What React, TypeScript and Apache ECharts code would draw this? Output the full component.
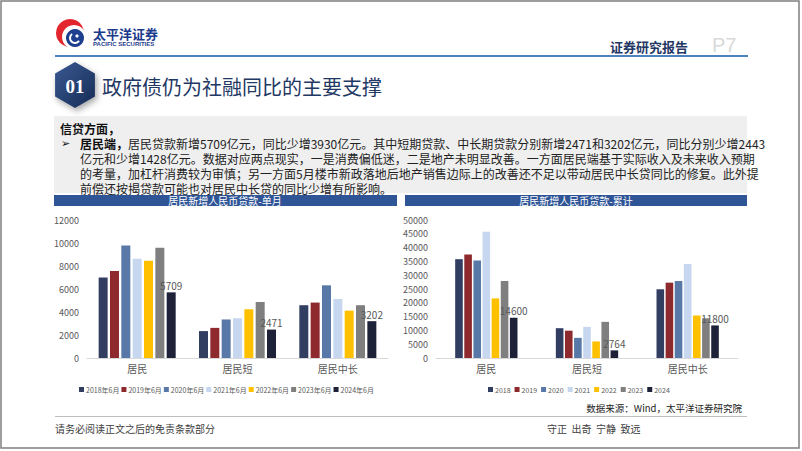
import React, { useEffect, useRef } from "react";
import * as echarts from "echarts";

const categories = ["居民", "居民短", "居民中长"];

const monthlyNames = ["2018年6月", "2019年6月", "2020年6月", "2021年6月", "2022年6月", "2023年6月", "2024年6月"];
const m2018 = [7000, 2340, 4590];
const m2019 = [7560, 2620, 4820];
const m2020 = [9780, 3350, 6320];
const m2021 = [8620, 3460, 5130];
const m2022 = [8450, 4240, 4120];
const m2023 = [9580, 4870, 4590];
const m2024 = [5709, 2471, 3202];
const monthlyValues = [m2018, m2019, m2020, m2021, m2022, m2023, m2024];

const cumNames = ["2018", "2019", "2020", "2021", "2022", "2023", "2024"];
const c2018 = [35800, 10800, 24900];
const c2019 = [37500, 9900, 27300];
const c2020 = [35300, 7300, 27900];
const c2021 = [45700, 11300, 34100];
const c2022 = [21600, 6000, 15400];
const c2023 = [27900, 13100, 14400];
const c2024 = [14600, 2764, 11800];
const cumValues = [c2018, c2019, c2020, c2021, c2022, c2023, c2024];

const leftTicks = { min: 0, max: 12000, interval: 2000 };
const rightTicks = { min: 0, max: 50000, interval: 5000 };

const colors = ["#323e61", "#8e2a2d", "#5878a8", "#c6d7ef", "#ffc000", "#7f7f7f", "#1d2238"];

const FONT = '"Noto Sans CJK SC", "Noto Sans", sans-serif';

const bodyLines = [
  "亿元和少增1428亿元。数据对应两点现实，一是消费偏低迷，二是地产未明显改善。一方面居民端基于实际收入及未来收入预期",
  "的考量，加杠杆消费较为审慎；另一方面5月楼市新政落地后地产销售边际上的改善还不足以带动居民中长贷同比的修复。此外提",
  "前偿还按揭贷款可能也对居民中长贷的同比少增有所影响。",
];

function hexPoints(cx: number, cy: number, r: number) {
  const pts: number[][] = [];
  for (let i = 0; i < 6; i++) {
    const a = (Math.PI / 180) * (60 * i - 90);
    pts.push([cx + r * Math.cos(a), cy + r * Math.sin(a)]);
  }
  return pts;
}

export default function App() {
  const ref = useRef<HTMLDivElement>(null);
  useEffect(() => {
    if (!ref.current) return;
    const chart = echarts.init(ref.current, undefined, { renderer: "svg" });

    const labelStyle = { show: true, position: "top", distance: 2, fontSize: 10, color: "#595959", fontFamily: FONT };

    const series: any[] = [];
    monthlyNames.forEach((n, i) => {
      series.push({
        name: n,
        type: "bar",
        xAxisIndex: 0,
        yAxisIndex: 0,
        data: monthlyValues[i],
        barWidth: 9,
        barGap: "26%",
        itemStyle: { color: colors[i] },
        label: i === 6 ? labelStyle : { show: false },
      });
    });
    cumNames.forEach((n, i) => {
      series.push({
        name: n,
        type: "bar",
        xAxisIndex: 1,
        yAxisIndex: 1,
        data: cumValues[i],
        barWidth: 7.6,
        barGap: "20%",
        itemStyle: { color: colors[i] },
        label: i === 6 ? labelStyle : { show: false },
      });
    });

    const xAxisBase = {
      type: "category",
      data: categories,
      axisLine: { lineStyle: { color: "#d9d9d9", width: 1 } },
      axisTick: { show: false },
      axisLabel: { fontSize: 10, color: "#595959", fontFamily: FONT, margin: 5 },
    };
    const yAxisBase = {
      type: "value",
      axisLine: { show: false },
      axisTick: { show: false },
      splitLine: { show: false },
      axisLabel: { fontSize: 9, color: "#595959", fontFamily: FONT, formatter: (v: number) => String(v) },
    };

    const txt = (o: any) => ({ lineHeight: Math.round((o.fontSize || 12) * 1.1), ...o });

    const graphics: any[] = [
      // page border
      { type: "rect", shape: { x: 1, y: 1, width: 798, height: 447 }, style: { fill: "none", stroke: "#7f7f7f", lineWidth: 1.5 }, z: 100 },
      // logo
      { type: "circle", shape: { cx: 70, cy: 33, r: 14 }, style: { fill: "#e3262e" } },
      { type: "circle", shape: { cx: 74, cy: 37, r: 12 }, style: { fill: "#ffffff" } },
      { type: "circle", shape: { cx: 75, cy: 38, r: 9 }, style: { fill: "#1e3f8f" } },
      { type: "arc", shape: { cx: 75, cy: 38, r: 5, startAngle: Math.PI * 0.2, endAngle: Math.PI * 1.3 }, style: { stroke: "#ffffff", lineWidth: 2, fill: "none" } },
      { type: "circle", shape: { cx: 77, cy: 36, r: 1.6 }, style: { fill: "#ffffff" } },
      { type: "text", style: txt({ text: "太平洋证券", x: 93, y: 33, fontSize: 13, fontWeight: "bold", fill: "#1b3a8c", fontFamily: FONT, textVerticalAlign: "middle" }) },
      { type: "text", style: txt({ text: "PACIFIC SECURITIES", x: 93, y: 44, fontSize: 6, fontWeight: "bold", fill: "#1b3a8c", fontFamily: '"Liberation Sans", sans-serif', textVerticalAlign: "middle" }) },
      // header line
      { type: "line", shape: { x1: 55, y1: 56, x2: 748, y2: 56 }, style: { stroke: "#4f81bd", lineWidth: 2 } },
      { type: "text", style: txt({ text: "证券研究报告", x: 610, y: 46, fontSize: 13, fontWeight: "bold", fill: "#1f3864", fontFamily: FONT, textVerticalAlign: "middle" }) },
      { type: "text", style: txt({ text: "P7", x: 712, y: 45, fontSize: 20, fill: "#d9d9d9", fontFamily: '"Liberation Sans", sans-serif', textVerticalAlign: "middle" }) },
      // section title
      {
        type: "polygon",
        shape: { points: hexPoints(75, 85, 23) },
        style: {
          fill: new echarts.graphic.LinearGradient(0, 0, 1, 1, [
            { offset: 0, color: "#3a5a92" },
            { offset: 1, color: "#162b55" },
          ]),
          shadowBlur: 6,
          shadowColor: "rgba(0,0,0,0.35)",
          shadowOffsetX: 2,
          shadowOffsetY: 3,
        },
      },
      { type: "text", style: txt({ text: "01", x: 75, y: 86, fontSize: 19, fontWeight: "bold", fill: "#ffffff", fontFamily: '"Liberation Serif", serif', textAlign: "center", textVerticalAlign: "middle" }) },
      { type: "text", style: txt({ text: "政府债仍为社融同比的主要支撑", x: 102, y: 86, fontSize: 20, fill: "#1f3864", fontFamily: FONT, textVerticalAlign: "middle" }) },
      // gray box
      { type: "rect", shape: { x: 54, y: 116, width: 693, height: 77 }, style: { fill: "#efefef" } },
      { type: "text", style: txt({ text: "信贷方面，", x: 60, y: 128, fontSize: 12, fontWeight: "bold", fill: "#111111", fontFamily: FONT, textVerticalAlign: "middle" }) },
      { type: "text", style: txt({ text: "➢", x: 61, y: 143, fontSize: 11, fill: "#111111", fontFamily: '"DejaVu Sans", sans-serif', textVerticalAlign: "middle" }) },
      {
        type: "text",
        style: {
          text: "{b|居民端，}居民贷款新增5709亿元，同比少增3930亿元。其中短期贷款、中长期贷款分别新增2471和3202亿元，同比分别少增2443",
          x: 80, y: 143, fontSize: 12, lineHeight: 13, fill: "#222222", fontFamily: FONT, textVerticalAlign: "middle",
          rich: { b: { fontSize: 12, lineHeight: 13, fontWeight: "bold", fill: "#111111", fontFamily: FONT } },
        },
      },
      ...bodyLines.map((t, i) => ({
        type: "text",
        style: { text: t, x: 80, y: 158 + 15 * i, fontSize: 12, lineHeight: 13, fill: "#222222", fontFamily: FONT, textVerticalAlign: "middle" },
      })),
      // chart title bars
      { type: "rect", shape: { x: 54, y: 195, width: 343, height: 11 }, style: { fill: "#2f5597" } },
      { type: "text", style: { text: "居民新增人民币贷款-单月", x: 225, y: 200.5, fontSize: 10, lineHeight: 10, fill: "#ffffff", fontFamily: FONT, textAlign: "center", textVerticalAlign: "middle" } },
      { type: "rect", shape: { x: 405, y: 195, width: 342, height: 11 }, style: { fill: "#2f5597" } },
      { type: "text", style: { text: "居民新增人民币贷款-累计", x: 576, y: 200.5, fontSize: 10, lineHeight: 10, fill: "#ffffff", fontFamily: FONT, textAlign: "center", textVerticalAlign: "middle" } },
      // footer
      { type: "text", style: txt({ text: "数据来源：Wind，太平洋证券研究院", x: 742, y: 408, fontSize: 9.5, fill: "#222222", fontFamily: FONT, textAlign: "right", textVerticalAlign: "middle" }) },
      { type: "line", shape: { x1: 55, y1: 416.5, x2: 747, y2: 416.5 }, style: { stroke: "#bfbfbf", lineWidth: 1 } },
      { type: "text", style: txt({ text: "请务必阅读正文之后的免责条款部分", x: 55, y: 428, fontSize: 10, fill: "#404040", fontFamily: FONT, textVerticalAlign: "middle" }) },
      { type: "text", style: txt({ text: "守正  出奇  宁静  致远", x: 547, y: 428, fontSize: 10, fill: "#404040", fontFamily: FONT, textVerticalAlign: "middle" }) },
    ];

    chart.setOption({
      animation: false,
      backgroundColor: "#ffffff",
      textStyle: { fontFamily: FONT },
      grid: [
        { left: 87, right: 414, top: 220, bottom: 93 },
        { left: 436, right: 64, top: 220, bottom: 93 },
      ],
      xAxis: [
        { ...xAxisBase, gridIndex: 0 },
        { ...xAxisBase, gridIndex: 1 },
      ],
      yAxis: [
        { ...yAxisBase, gridIndex: 0, ...leftTicks },
        { ...yAxisBase, gridIndex: 1, ...rightTicks },
      ],
      legend: [
        {
          data: monthlyNames,
          left: 74,
          top: 381,
          itemWidth: 5,
          itemHeight: 5,
          itemGap: 2,
          icon: "rect",
          textStyle: { fontSize: 7, color: "#595959", fontFamily: FONT, padding: [0, 0, 0, -3] },
        },
        {
          data: cumNames,
          left: 483,
          top: 381,
          itemWidth: 5,
          itemHeight: 5,
          itemGap: 4,
          icon: "rect",
          textStyle: { fontSize: 7, color: "#595959", fontFamily: FONT, padding: [0, 0, 0, -3] },
        },
      ],
      series,
      graphic: graphics,
    });

    return () => chart.dispose();
  }, []);

  return <div ref={ref} style={{ position: "absolute", left: 0, top: 0, width: 802, height: 451 }} />;
}
